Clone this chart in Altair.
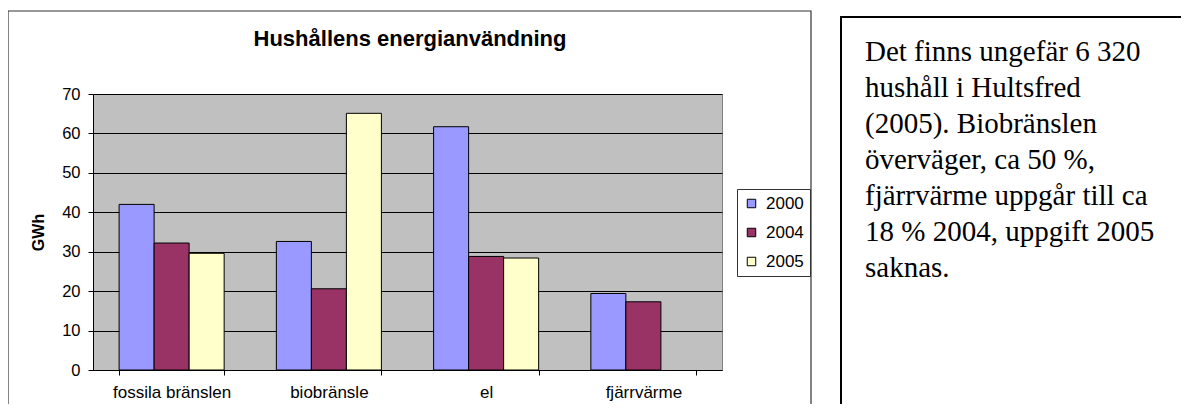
import altair as alt
import pandas as pd

categories = ["fossila bränslen", "biobränsle", "el", "fjärrvärme"]
years = ["2000", "2004", "2005"]
values_2000 = [42.0, 32.6, 61.7, 19.4]
values_2004 = [32.2, 20.6, 28.8, 17.3]
values_2005 = [29.6, 65.1, 28.4, None]
colors = ["#9999FF", "#993366", "#FFFFCC"]

title_text = "Hushållens energianvändning"
y_title = "GWh"
note_lines = [
    "Det finns ungefär 6 320",
    "hushåll i Hultsfred",
    "(2005). Biobränslen",
    "överväger, ca 50 %,",
    "fjärrvärme uppgår till ca",
    "18 % 2004, uppgift 2005",
    "saknas.",
]

rows = []
for yr, vals in zip(years, [values_2000, values_2004, values_2005]):
    for c, v in zip(categories, vals):
        if v is not None:
            rows.append({"kategori": c, "år": yr, "GWh": v})
df = pd.DataFrame(rows)

one = pd.DataFrame({"k": [0]})

W, H = 629, 276

frame = alt.Chart(one).mark_rect(
    fillOpacity=0, stroke="#333333", strokeWidth=1.2
).encode(
    x=alt.value(-85), x2=alt.value(718), y=alt.value(-83), y2=alt.value(400)
)

textbox = alt.Chart(one).mark_rect(
    fillOpacity=0, stroke="#000000", strokeWidth=2
).encode(
    x=alt.value(748), x2=alt.value(1200), y=alt.value(-77), y2=alt.value(400)
)

bars = alt.Chart(df).mark_bar(stroke="#000000", strokeWidth=1).encode(
    x=alt.X(
        "kategori:N",
        sort=categories,
        scale=alt.Scale(paddingInner=0.332, paddingOuter=0.166),
        axis=alt.Axis(
            title=None,
            labelAngle=0,
            tickBand="extent",
            tickSize=5,
            tickColor="#000000",
            domainColor="#000000",
            labelFontSize=17,
            labelPadding=9,
            labelColor="#000000",
            grid=False,
        ),
    ),
    xOffset=alt.XOffset("år:N", sort=years, scale=alt.Scale(domain=years, paddingInner=0, paddingOuter=0)),
    y=alt.Y(
        "GWh:Q",
        scale=alt.Scale(domain=[0, 70], nice=False),
        axis=alt.Axis(
            title=y_title,
            values=[0, 10, 20, 30, 40, 50, 60, 70],
            tickSize=5,
            tickColor="#000000",
            domainColor="#000000",
            gridColor="#000000",
            gridWidth=1,
            labelFontSize=16.5,
            labelPadding=8,
            labelColor="#000000",
            titleFontSize=16,
            titleFontWeight="bold",
            titleColor="#000000",
            titleX=-55,
            titleY=138,
            titleAlign="center",
            titleBaseline="middle",
        ),
    ),
    color=alt.Color(
        "år:N",
        scale=alt.Scale(domain=years, range=colors),
        legend=alt.Legend(
            title=None,
            orient="none",
            legendX=644,
            legendY=95,
            symbolType="square",
            symbolSize=72,
            symbolStrokeColor="#000000",
            symbolStrokeWidth=1,
            symbolOpacity=1,
            labelFontSize=17,
            labelColor="#000000",
            labelOffset=6,
            rowPadding=11,
            padding=6,
            strokeColor="#333333",
            fillColor="#FFFFFF",
        ),
    ),
)

title = alt.Chart(one).mark_text(
    text=title_text, font="Liberation Sans", fontSize=22, fontWeight="bold",
    align="center", baseline="alphabetic", color="#000000"
).encode(x=alt.value(317), y=alt.value(-48))

note = alt.Chart(one).mark_text(
    text=note_lines, font="Liberation Serif", fontSize=29, lineHeight=36,
    align="left", baseline="alphabetic", color="#000000"
).encode(x=alt.value(772), y=alt.value(-33))

chart = alt.layer(frame, textbox, bars, title, note).properties(
    width=W,
    height=H,
    autosize=alt.AutoSizeParams(type="none"),
    padding={"left": 85, "top": 86, "right": 459, "bottom": 34},
).configure(
    font="Liberation Sans",
).configure_view(
    fill="#C0C0C0", stroke="#808080", strokeWidth=1
).configure_axis(
    labelFont="Liberation Sans", titleFont="Liberation Sans"
).configure_legend(
    labelFont="Liberation Sans"
)

chart.save("out.html", embed_options={"renderer": "svg", "actions": False})
